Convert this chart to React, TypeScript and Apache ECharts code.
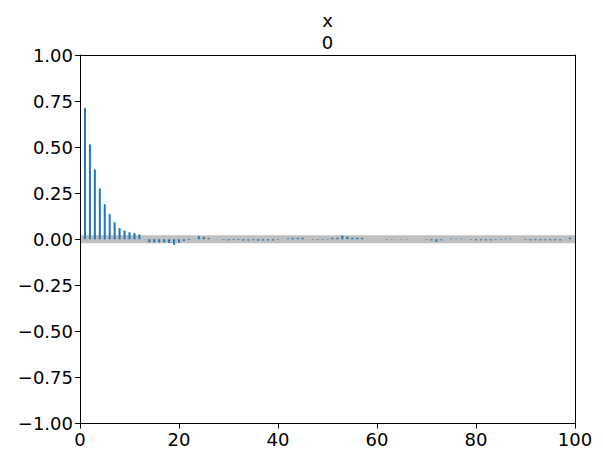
import React, { useEffect, useRef } from "react";
import * as echarts from "echarts";

const TITLE_LINES = ["x", "0"];
const X_TICKS = [0, 20, 40, 60, 80, 100];
const Y_TICKS = [-1, -0.75, -0.5, -0.25, 0, 0.25, 0.5, 0.75, 1];
const BAND = 0.022;

const LAGS = Array.from({ length: 99 }, (_, i) => i + 1);
const ACF = [
  0.712, 0.515, 0.379, 0.276, 0.19, 0.136, 0.092, 0.06, 0.047, 0.038,
  0.033, 0.026, 0.001, -0.017, -0.017, -0.017, -0.017, -0.02, -0.03, -0.018,
  -0.009, -0.004, 0.0, 0.017, 0.012, 0.006, 0.0, 0.0, -0.003, -0.006,
  -0.004, -0.004, -0.007, -0.007, -0.005, -0.008, -0.007, -0.007, -0.007, -0.003,
  0.0, 0.004, 0.008, 0.008, 0.008, 0.0, -0.003, -0.003, -0.003, 0.003,
  0.008, 0.008, 0.02, 0.014, 0.008, 0.008, 0.008, 0.0, 0.0, 0.0,
  0.0, -0.002, -0.002, 0.0, -0.002, -0.002, 0.0, 0.0, 0.0, -0.003,
  -0.006, -0.013, -0.006, 0.0, 0.003, 0.003, 0.003, 0.0, -0.003, -0.006,
  -0.006, -0.006, -0.006, -0.003, -0.003, 0.003, 0.003, 0.0, 0.0, -0.003,
  -0.006, -0.006, -0.006, -0.006, -0.006, -0.006, -0.006, 0.0, 0.008,
];

const FONT = "DejaVu Sans";

const fmt = (v: number) => {
  const s = v.toFixed(2);
  return s.startsWith("-") ? "\u2212" + s.slice(1) : s;
};

export default function App() {
  const ref = useRef<HTMLDivElement>(null);
  useEffect(() => {
    document.body.style.margin = "0";
    if (!ref.current) return;
    const chart = echarts.init(ref.current, undefined, { renderer: "svg" });
    const left = 80;
    const right = 28;
    const top = 55;
    const bottom = 38.5;
    const plotCenter = left + (603 - left - right) / 2;
    chart.setOption({
      animation: false,
      backgroundColor: "#ffffff",
      grid: { left, right, top, bottom, containLabel: false },
      graphic: TITLE_LINES.map((t, i) => ({
        type: "text",
        x: plotCenter,
        y: 20 + i * 22,
        style: {
          text: t,
          fill: "#000",
          font: `18px '${FONT}'`,
          textAlign: "center",
          textVerticalAlign: "middle",
        },
      })),
      xAxis: [
        {
          type: "value",
          min: X_TICKS[0],
          max: X_TICKS[X_TICKS.length - 1],
          interval: 20,
          z: 10,
          axisLine: { show: true, onZero: false, lineStyle: { color: "#000", width: 1 } },
          axisTick: { show: true, inside: false, length: 5, lineStyle: { color: "#000" } },
          axisLabel: {
            show: true,
            color: "#000",
            fontSize: 18,
            fontFamily: FONT,
            margin: 7,
          },
          splitLine: { show: false },
        },
        {
          type: "value",
          position: "top",
          min: X_TICKS[0],
          max: X_TICKS[X_TICKS.length - 1],
          z: 10,
          axisLine: { show: true, onZero: false, lineStyle: { color: "#000", width: 1 } },
          axisTick: { show: false },
          axisLabel: { show: false },
          splitLine: { show: false },
        },
      ],
      yAxis: [
        {
          type: "value",
          min: Y_TICKS[0],
          max: Y_TICKS[Y_TICKS.length - 1],
          interval: 0.25,
          z: 10,
          axisLine: { show: true, onZero: false, lineStyle: { color: "#000", width: 1 } },
          axisTick: { show: true, inside: false, length: 5, lineStyle: { color: "#000" } },
          axisLabel: {
            show: true,
            color: "#000",
            fontSize: 18,
            fontFamily: FONT,
            margin: 7,
            formatter: (v: number) => fmt(v),
          },
          splitLine: { show: false },
        },
        {
          type: "value",
          position: "right",
          min: Y_TICKS[0],
          max: Y_TICKS[Y_TICKS.length - 1],
          z: 10,
          axisLine: { show: true, onZero: false, lineStyle: { color: "#000", width: 1 } },
          axisTick: { show: false },
          axisLabel: { show: false },
          splitLine: { show: false },
        },
      ],
      series: [
        {
          type: "custom",
          xAxisIndex: 0,
          yAxisIndex: 0,
          z: 1,
          silent: true,
          data: [[X_TICKS[0], X_TICKS[X_TICKS.length - 1]]],
          renderItem: (params: any, api: any) => {
            const p1 = api.coord([api.value(0), BAND]);
            const p2 = api.coord([api.value(1), -BAND]);
            return {
              type: "rect",
              shape: { x: p1[0], y: p1[1], width: p2[0] - p1[0], height: p2[1] - p1[1] },
              style: { fill: "#bfbfbf" },
            };
          },
        },
        {
          type: "bar",
          xAxisIndex: 0,
          yAxisIndex: 0,
          z: 2,
          barWidth: 2,
          itemStyle: { color: "#1f77b4" },
          data: LAGS.map((l, i) => [l, ACF[i]]),
        },
      ],
    });
    return () => chart.dispose();
  }, []);
  return <div ref={ref} style={{ width: 603, height: 462 }} />;
}
